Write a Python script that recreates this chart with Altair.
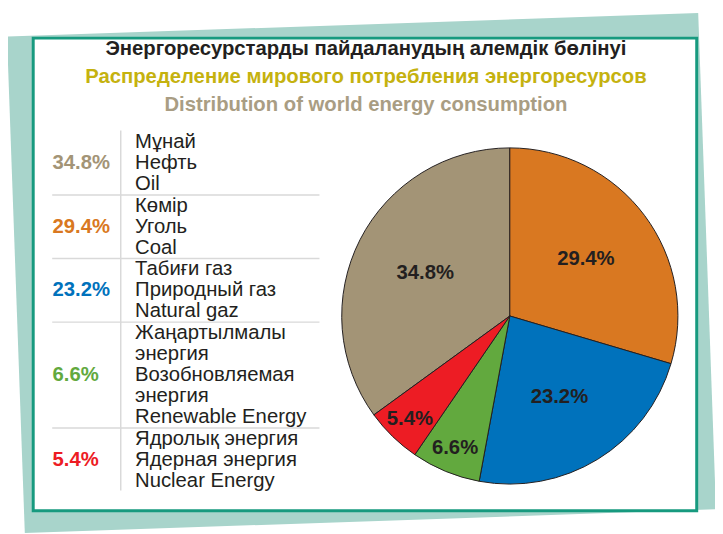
import altair as alt
import pandas as pd

# ---------------- data ----------------
titles = [
    "Энергоресурстарды пайдаланудың алемдік бөлінуі",
    "Распределение мирового потребления энергоресурсов",
    "Distribution of world energy consumption",
]
title_colors = ["#231f20", "#c5b20f", "#a99d83"]

names = ["Oil", "Coal", "Natural gas", "Renewable", "Nuclear"]
percents = [34.8, 29.4, 23.2, 6.6, 5.4]
percent_labels = ["34.8%", "29.4%", "23.2%", "6.6%", "5.4%"]
label_lines = [
    ["Мұнай", "Нефть", "Oil"],
    ["Көмір", "Уголь", "Coal"],
    ["Табиғи газ", "Природный газ", "Natural gaz"],
    ["Жаңартылмалы", "энергия", "Возобновляемая", "энергия", "Renewable Energy"],
    ["Ядролық энергия", "Ядерная энергия", "Nuclear Energy"],
]
# clockwise order of slices starting at 12 o'clock
pie_order = [4, 0, 1, 2, 3]
colors = ["#a39476", "#d97821", "#0072bc", "#62a93e", "#ed1c24"]

# ---------------- tables ----------------
pie_df = pd.DataFrame({
    "name": names, "value": percents, "label": percent_labels, "order": pie_order,
})

line_rows, pct_rows, sep_rows = [], [], []
idx = 0
for g, lines in enumerate(label_lines):
    for ln in lines:
        line_rows.append({"line": idx, "text": ln})
        idx += 1
    start = idx - len(lines)
    pct_rows.append({"line": start + (len(lines) - 1) / 2, "label": percent_labels[g], "name": names[g]})
    if g < len(label_lines) - 1:
        sep_rows.append({"line": idx - 0.5})
total_lines = idx
lines_df = pd.DataFrame(line_rows)
pct_df = pd.DataFrame(pct_rows)
sep_df = pd.DataFrame(sep_rows)
vline_df = pd.DataFrame({"a": [-0.55], "b": [total_lines - 0.55]})
title_df = pd.DataFrame({"t": titles, "c": title_colors})

one = pd.DataFrame({"k": [0]})

FONT = "Liberation Sans"
FS = 20.5
OFF = 8  # page margin

yscale = alt.Scale(domain=[0, total_lines - 1], range=[140.7 - OFF, 483.3 - OFF])
cscale = alt.Scale(domain=names, range=colors)

# ---------------- decoration ----------------
# rotated light-teal card behind the frame (custom symbol path, scaled by sqrt(size)/2 = 100)
cx, cy = 357.5, 265.0
quad = [(-1, 26), (698, 2), (716, 504), (17, 528)]
path = "M " + " L ".join(f"{(px - cx) / 100:.4f} {(py - cy) / 100:.4f}" for px, py in quad) + " Z"
card = alt.Chart(one).mark_point(
    shape=path, size=40000, filled=True, fill="#a8d4cb", opacity=1, strokeWidth=0
).encode(x=alt.value(cx), y=alt.value(cy))

frame = alt.Chart(one).mark_rect(
    fill="white", stroke="#179a7f", strokeWidth=3
).encode(
    x=alt.value(33.5 - OFF), x2=alt.value(704.5 - OFF),
    y=alt.value(35.5 - OFF), y2=alt.value(513.5 - OFF),
)

# ---------------- titles ----------------
title_layers = []
for i, (t, c) in enumerate(zip(titles, title_colors)):
    title_layers.append(
        alt.Chart(title_df.iloc[[i]]).mark_text(
            font=FONT, fontSize=FS, fontWeight="bold", color=c, align="center", baseline="middle"
        ).encode(x=alt.value(370 - OFF), y=alt.value([47, 75, 103][i] - OFF), text="t:N")
    )

# ---------------- table ----------------
seps = alt.Chart(sep_df).mark_rule(color="#d9d9d9", strokeWidth=1.5).encode(
    y=alt.Y("line:Q", scale=yscale, axis=None),
    x=alt.value(52.7 - OFF), x2=alt.value(323 - OFF),
)
vline = alt.Chart(vline_df).mark_rule(color="#d9d9d9", strokeWidth=1.5).encode(
    y=alt.Y("a:Q", scale=yscale, axis=None), y2="b:Q", x=alt.value(122 - OFF),
)
label_text = alt.Chart(lines_df).mark_text(
    font=FONT, fontSize=FS, color="#231f20", align="left", baseline="middle"
).encode(y=alt.Y("line:Q", scale=yscale, axis=None), x=alt.value(136.5 - OFF), text="text:N")
pct_text = alt.Chart(pct_df).mark_text(
    font=FONT, fontSize=FS, fontWeight="bold", align="left", baseline="middle"
).encode(
    y=alt.Y("line:Q", scale=yscale, axis=None), x=alt.value(53 - OFF), text="label:N",
    color=alt.Color("name:N", scale=cscale, legend=None),
)

# ---------------- pie ----------------
PCX, PCY = 515.5 - OFF, 316.5 - OFF
arcs = alt.Chart(pie_df).mark_arc(radius=170, stroke="#231f20", strokeWidth=1).encode(
    theta=alt.Theta("value:Q", stack=True),
    order=alt.Order("order:Q"),
    color=alt.Color("name:N", scale=cscale, legend=None),
    x=alt.value(PCX), y=alt.value(PCY),
)
pie_labels = alt.Chart(pie_df).transform_window(
    cum="sum(value)", sort=[alt.SortField("order")]
).transform_joinaggregate(
    tot="sum(value)"
).transform_calculate(
    ang="(datum.cum - datum.value / 2) / datum.tot * 2 * PI",
    lr="datum.value < 10 ? 145 : 96",
).mark_text(
    font=FONT, fontSize=FS, fontWeight="bold", color="#231f20", align="center", baseline="middle"
).encode(
    theta=alt.Theta("ang:Q", scale=None),
    radius=alt.Radius("lr:Q", scale=None),
    text="label:N",
    x=alt.value(PCX), y=alt.value(PCY),
)

chart = alt.layer(
    card, frame, *title_layers, seps, vline, label_text, pct_text, arcs, pie_labels
).properties(
    width=715, height=526, autosize="none", padding=0, background="white"
).configure_view(stroke=None)

chart.save("out.html", embed_options={"renderer": "svg", "actions": False})
